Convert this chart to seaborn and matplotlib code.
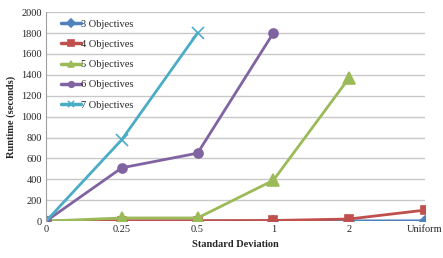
import numpy as np
import pandas as pd
import matplotlib
matplotlib.use("Agg")
from matplotlib import pyplot as plt
import seaborn as sns

sns.set_style("white")
plt.rcParams['font.family'] = ['Liberation Serif', 'DejaVu Serif']

categories = ["0", "0.25", "0.5", "1", "2", "Uniform"]
obj3 = [0, 1, 1, 2, 2, 3]
obj4 = [0, 3, 4, 6, 20, 105]
obj5 = [0, 30, 30, 390, 1370, np.nan]
obj6 = [0, 510, 650, 1800, np.nan, np.nan]
obj7 = [0, 780, 1800, np.nan, np.nan, np.nan]

series = {"3 Objectives": obj3, "4 Objectives": obj4, "5 Objectives": obj5,
          "6 Objectives": obj6, "7 Objectives": obj7}
rows = []
for name, vals in series.items():
    for c, v in zip(categories, vals):
        rows.append({"sd": c, "runtime": v, "series": name})
df = pd.DataFrame(rows).dropna()

palette = {"3 Objectives": "#4F81BD", "4 Objectives": "#C0504D",
           "5 Objectives": "#9BBB59", "6 Objectives": "#8064A2",
           "7 Objectives": "#4BACC6"}
markers = {"3 Objectives": "D", "4 Objectives": "s", "5 Objectives": "^",
           "6 Objectives": "o", "7 Objectives": "x"}
msizes = {"3 Objectives": 5, "4 Objectives": 6, "5 Objectives": 8,
          "6 Objectives": 6.5, "7 Objectives": 8}

fig = plt.figure(figsize=(4.43, 2.58), dpi=100)
ax = fig.add_axes([0.104, 0.143, 0.855, 0.81])

for name in series:
    sub = df[df.series == name]
    sns.lineplot(data=sub, x="sd", y="runtime", ax=ax, color=palette[name],
                 marker=markers[name], markersize=msizes[name], linewidth=2,
                 markeredgecolor=palette[name], markeredgewidth=1.2,
                 label=name, sort=False)

ax.set_xlim(0, 5)
ax.set_ylim(0, 2000)
ax.set_yticks(range(0, 2001, 200))
ax.yaxis.grid(True, color="#c8c8c8", linewidth=1)
ax.set_axisbelow(True)
for s in ["top", "right", "bottom"]:
    ax.spines[s].set_visible(False)
ax.spines["left"].set_color("#a0a0a0")
ax.axhline(0, color="#a0a0a0", linewidth=1, zorder=0)
ax.tick_params(axis="both", labelsize=7.5, length=0, pad=3)
ax.set_xlabel("Standard Deviation", fontsize=7.5, fontweight="bold")
ax.set_ylabel("Runtime (seconds)", fontsize=7.5, fontweight="bold")

leg = ax.legend(loc="upper left", frameon=False, fontsize=7.5,
                handlelength=1.9, handletextpad=0.0, labelspacing=1.05,
                borderaxespad=0.3, bbox_to_anchor=(0.02, 1.0))
for h in leg.legend_handles:
    h.set_markersize(4)
    h.set_linewidth(2.5)

fig.savefig("out.png", dpi=100)
